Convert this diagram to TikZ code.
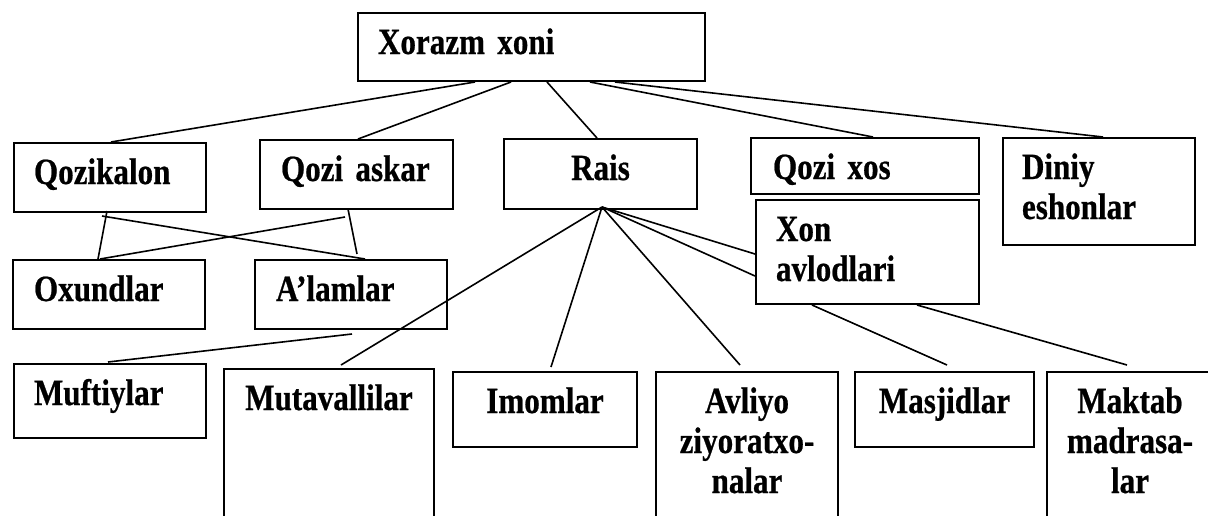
\documentclass[tikz,border=0pt]{standalone}
\usepackage{fontspec}
\setmainfont{Liberation Serif}[FakeStretch=0.84, WordSpace=0.8, BoldFeatures={FakeBold=0.6}]
\usepackage{tikz}
\usetikzlibrary{calc}

\begin{document}
\begin{tikzpicture}[
      x=1pt, y=-1pt,
      orgbox/.style={draw, line width=2pt, anchor=north west, inner xsep=20pt, inner ysep=0pt, text height=41pt, align=left, font=\fontsize{37}{40}\selectfont\bfseries},
      midbox/.style={orgbox, inner xsep=8pt, align=center},
      link/.style={line width=1.6pt}
    ]
      \path[use as bounding box, clip] (0,0) rectangle (1208,515);

      % top level
      \node[orgbox, text width=307pt, text depth=27pt] (xorazm) at (357,12) {Xorazm xoni};

      % second row
      \node[orgbox, text width=152pt, text depth=28pt] (qozikalon) at (13,142) {Qozikalon};
      \node[orgbox, inner xsep=21pt, text width=151pt, text depth=28pt] (qoziaskar) at (259,139) {Qozi askar};
      \node[midbox, text width=177pt, text depth=29pt] (rais) at (503,138) {Rais};
      \node[orgbox, inner xsep=22pt, text width=184pt, text depth=15pt] (qozixos) at (750,137) {Qozi xos};
      \node[orgbox, inner xsep=19pt, text width=154pt, text depth=66pt] (diniy) at (1002,137) {Diniy\\eshonlar};
      \node[orgbox, text width=183pt, text depth=63pt] (xonavlod) at (755,199) {Xon\\avlodlari};

      % third row
      \node[orgbox, inner xsep=21pt, text width=150pt, text depth=28pt] (oxundlar) at (12,259) {Oxundlar};
      \node[orgbox, inner xsep=21pt, text width=150pt, text depth=28pt] (alamlar) at (254,259) {A’lamlar};

      % bottom row
      \node[orgbox, text width=152pt, text depth=33pt] (muftiylar) at (13,363) {Muftiylar};
      \node[midbox, text width=194pt, text depth=131pt] (mutaval) at (223,368) {Mutavallilar};
      \node[midbox, text width=168pt, text depth=34pt] (imomlar) at (452,371) {Imomlar};
      \node[midbox, text width=166pt, text depth=129pt] (avliyo) at (655,371) {Avliyo\\ziyoratxo-\\nalar};
      \node[midbox, text width=163pt, text depth=34pt] (masjid) at (854,371) {Masjidlar};
      \node[midbox, text width=150pt, text depth=129pt] (maktab) at (1046,371) {Maktab\\madrasa-\\lar};

      % links from the khan
      \draw[link] ($(xorazm.south west)+(118,0)$) -- ($(qozikalon.north west)+(98,0)$);
      \draw[link] ($(xorazm.south west)+(154,0)$) -- ($(qoziaskar.north west)+(99,0)$);
      \draw[link] ($(xorazm.south west)+(190,0)$) -- ($(rais.north west)+(94,0)$);
      \draw[link] ($(xorazm.south west)+(233,0)$) -- ($(qozixos.north west)+(123,0)$);
      \draw[link] ($(xorazm.south west)+(258,0)$) -- ($(diniy.north west)+(101,0)$);

      % crossed links of the judges
      \draw[link] ($(qozikalon.south west)+(94,-2)$) -- ($(oxundlar.north west)+(86,0)$);
      \draw[link] ($(qozikalon.south west)+(89,3)$) -- ($(alamlar.north west)+(111,0)$);
      \draw[link] ($(qoziaskar.south west)+(89,-1)$) -- ($(alamlar.north west)+(103,-5)$);
      \draw[link] ($(qoziaskar.south west)+(86,7)$) -- ($(oxundlar.north west)+(88,0)$);
      \draw[link] ($(alamlar.south west)+(98,4)$) -- ($(muftiylar.north west)+(95,-1)$);

      % links from the rais
      \coordinate (hub) at ($(rais.south west)+(99,-3)$);
      \draw[link] (hub) -- ($(mutaval.north west)+(118,-3)$);
      \draw[link] (hub) -- ($(imomlar.north west)+(99,-4)$);
      \draw[link] (hub) -- ($(avliyo.north west)+(85,-6)$);
      \draw[link] (hub) -- ($(xonavlod.north west)+(0,55)$);
      \draw[link] (hub) -- ($(xonavlod.north west)+(0,77)$);
      \draw[link] ($(xonavlod.south west)+(57,0)$) -- ($(masjid.north west)+(93,-6)$);
      \draw[link] ($(xonavlod.south west)+(162,0)$) -- ($(maktab.north west)+(81,-6)$);
    \end{tikzpicture}
\end{document}
